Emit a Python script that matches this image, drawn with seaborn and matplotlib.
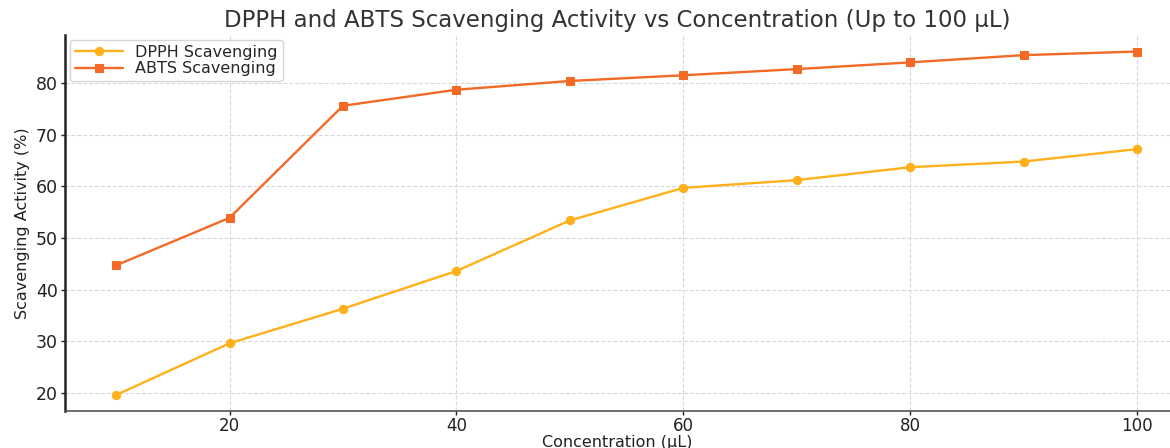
import matplotlib
matplotlib.use("Agg")
import matplotlib.pyplot as plt
import seaborn as sns
import pandas as pd

concentration = [10, 20, 30, 40, 50, 60, 70, 80, 90, 100]
dpph = [19.6, 29.6, 36.3, 43.6, 53.4, 59.7, 61.2, 63.7, 64.8, 67.2]
abts = [44.7, 53.9, 75.6, 78.7, 80.4, 81.5, 82.7, 84.0, 85.4, 86.1]
series_names = ["DPPH Scavenging", "ABTS Scavenging"]
colors = ["#FFB01A", "#F26A25"]
markers = ["o", "s"]
msizes = [6.0, 5.5]

sns.set_style("whitegrid")
plt.rcParams['font.family'] = ['DejaVu Sans']

df = pd.DataFrame({
    "Concentration": concentration * 2,
    "Value": dpph + abts,
    "Series": [series_names[0]] * len(dpph) + [series_names[1]] * len(abts),
})

fig = plt.figure(figsize=(11.7, 4.48), dpi=100)
ax = fig.add_axes([65/1170, 37/448, 1105/1170, 376/448])

for name, c, m, ms in zip(series_names, colors, markers, msizes):
    sub = df[df["Series"] == name]
    sns.lineplot(data=sub, x="Concentration", y="Value", ax=ax, color=c,
                 marker=m, markersize=ms, markeredgecolor=c, linewidth=1.7,
                 label=name)

ax.set_xlim(5.5, 102.9)
ax.set_ylim(16.5, 89.3)
ax.set_xticks([20, 40, 60, 80, 100])
ax.set_yticks([20, 30, 40, 50, 60, 70, 80])
ax.grid(True, linestyle="--", color="#d9d9d9", linewidth=0.8)
ax.tick_params(axis="both", labelsize=12.5, colors="#222222", length=3,
               direction="out", bottom=True, left=True, width=1, pad=2)
ax.tick_params(axis="x", pad=1, labelsize=12)
for s in ["top", "right"]:
    ax.spines[s].set_visible(False)
ax.spines["left"].set_color("#222222")
ax.spines["left"].set_linewidth(1.8)
ax.spines["bottom"].set_color("#555555")
ax.spines["bottom"].set_linewidth(1.2)

ax.set_xlabel("Concentration (µL)", fontsize=11.5, color="#222222", labelpad=0)
ax.set_ylabel("Scavenging Activity (%)", fontsize=11.5, color="#222222", labelpad=4)
ax.set_title("DPPH and ABTS Scavenging Activity vs Concentration (Up to 100 µL)",
             fontsize=16.5, color="#333333", pad=6)

leg = ax.legend(loc="upper left", fontsize=11.5, frameon=True, borderpad=0.3,
                labelspacing=0.1, handlelength=3, borderaxespad=0.3)
leg.get_frame().set_edgecolor("#cccccc")

fig.savefig("out.png", dpi=100)
